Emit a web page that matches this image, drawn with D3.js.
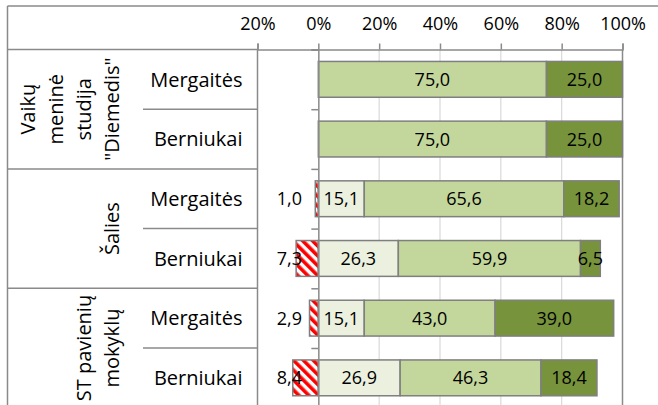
<!DOCTYPE html>
<html>
<head>
<meta charset="utf-8">
<script src="https://cdn.jsdelivr.net/npm/d3@7"></script>
<style>
  body { margin: 0; background: #fff; }
  svg { display: block; font-family: "Open Sans", sans-serif; }
</style>
</head>
<body>
<svg id="chart" width="658" height="405"></svg>
<script>
// data
const groups = [
  { key: "vaiku", lines: ["Vaikų", "meninė", "studija", "\"Diemedis\""] },
  { key: "salies", lines: ["Šalies"] },
  { key: "st", lines: ["ST pavienių", "mokyklų"] },
];
const rowGroups = ["vaiku", "vaiku", "salies", "salies", "st", "st"];
const rowLabels = ["Mergaitės", "Berniukai", "Mergaitės", "Berniukai", "Mergaitės", "Berniukai"];
const negValues = [0, 0, 1.0, 7.3, 2.9, 8.4];
const lowValues = [0, 0, 15.1, 26.3, 15.1, 26.9];
const midValues = [75.0, 75.0, 65.6, 59.9, 43.0, 46.3];
const highValues = [25.0, 25.0, 18.2, 6.5, 39.0, 18.4];
const tickValues = [-20, 0, 20, 40, 60, 80, 100];

const rows = rowLabels.map((label, i) => ({
  id: i,
  group: rowGroups[i],
  label,
  neg: negValues[i],
  low: lowValues[i],
  mid: midValues[i],
  high: highValues[i],
}));

const svg = d3.select("#chart");
const lineColor = "#8a8a8a";
const plotTop = 49.5;
const step = 59.7;
const plotBottom = plotTop + step * rows.length;

const xScale = d3.scaleLinear().domain([-20, 100]).range([257.5, 622.5]);

const yScale = d3
  .scaleBand()
  .domain(rows.map((d) => d.id))
  .range([plotTop, plotBottom])
  .paddingInner(0.4)
  .paddingOuter(0.2);

// row boundaries for ticks and table lines
const yEdge = d3.scaleLinear().domain([0, rows.length]).range([plotTop, plotBottom]);

const fmt = (v) => d3.format(".1f")(v).replace(".", ",");

// hatch for the negative part
const defs = svg.append("defs");
const pattern = defs
  .append("pattern")
  .attr("id", "hatch")
  .attr("patternUnits", "userSpaceOnUse")
  .attr("width", 7)
  .attr("height", 7)
  .attr("patternTransform", "rotate(-45)");
pattern.append("rect").attr("width", 7).attr("height", 7).attr("fill", "#fff");
pattern.append("rect").attr("width", 3.6).attr("height", 7).attr("fill", "#ff0000");

// outer frame
svg.append("line")
  .attr("x1", 7.5).attr("x2", 658).attr("y1", 6).attr("y2", 6)
  .attr("stroke", lineColor).attr("stroke-width", 1.5);
svg.append("line")
  .attr("x1", 7.5).attr("x2", 7.5).attr("y1", 6).attr("y2", 405)
  .attr("stroke", lineColor).attr("stroke-width", 1.5);

// gridlines
svg.append("g")
  .selectAll("line")
  .data([20, 40, 60, 80])
  .join("line")
  .attr("x1", (d) => xScale(d)).attr("x2", (d) => xScale(d))
  .attr("y1", plotTop).attr("y2", 405)
  .attr("stroke", "#d9d9d9").attr("stroke-width", 1.2);

// plot border right side
svg.append("line")
  .attr("x1", xScale(100)).attr("x2", xScale(100))
  .attr("y1", plotTop).attr("y2", 405)
  .attr("stroke", lineColor).attr("stroke-width", 1.5);

// label table lines
const table = svg.append("g").attr("stroke", lineColor).attr("stroke-width", 1.5);
table.append("line")
  .attr("x1", 7.5).attr("x2", xScale(-20)).attr("y1", plotTop).attr("y2", plotTop);
table.append("line")
  .attr("x1", xScale(-20)).attr("x2", xScale(-20)).attr("y1", plotTop).attr("y2", 405);
table.selectAll(".group-line")
  .data([2, 4])
  .join("line")
  .attr("class", "group-line")
  .attr("x1", 7.5).attr("x2", xScale(-20))
  .attr("y1", (d) => yEdge(d)).attr("y2", (d) => yEdge(d));
table.selectAll(".sub-line")
  .data([1, 3, 5])
  .join("line")
  .attr("class", "sub-line")
  .attr("x1", 143).attr("x2", xScale(-20))
  .attr("y1", (d) => yEdge(d)).attr("y2", (d) => yEdge(d));

// top axis
const xAxis = d3
  .axisTop(xScale)
  .tickValues(tickValues)
  .tickSize(6)
  .tickPadding(14)
  .tickFormat((d) => Math.abs(d) + "%");

const xAxisG = svg.append("g")
  .attr("class", "x-axis")
  .attr("transform", `translate(0,${plotTop})`)
  .call(xAxis);
xAxisG.select(".domain").attr("stroke", lineColor).attr("stroke-width", 1.5);
xAxisG.selectAll(".tick line").attr("stroke", lineColor).attr("stroke-width", 1.5);
xAxisG.selectAll(".tick text")
  .attr("fill", "#000")
  .attr("font-size", 18)
  .attr("font-family", "Open Sans, sans-serif");

// bars
const barG = svg.append("g");
const segs = [];
rows.forEach((d) => {
  if (d.neg > 0) segs.push({ row: d, x0: -d.neg, x1: 0, fill: "url(#hatch)", key: "neg" });
  let acc = 0;
  [["low", "#ebf1de"], ["mid", "#c3d69b"], ["high", "#77933c"]].forEach(([k, c]) => {
    if (d[k] > 0) segs.push({ row: d, x0: acc, x1: acc + d[k], fill: c, key: k, value: d[k] });
    acc += d[k];
  });
});

barG.selectAll("rect")
  .data(segs)
  .join("rect")
  .attr("x", (d) => xScale(d.x0))
  .attr("width", (d) => xScale(d.x1) - xScale(d.x0))
  .attr("y", (d) => yScale(d.row.id))
  .attr("height", yScale.bandwidth())
  .attr("fill", (d) => d.fill)
  .attr("stroke", "#7f7f7f")
  .attr("stroke-width", 1.5);

// vertical category axis at 0%
const yAxis = d3.axisLeft(yEdge).tickValues(d3.range(0, rows.length + 1)).tickSize(7).tickFormat("");
const yAxisG = svg.append("g")
  .attr("transform", `translate(${xScale(0)},0)`)
  .call(yAxis);
yAxisG.select(".domain").attr("stroke", lineColor).attr("stroke-width", 1.5);
yAxisG.selectAll(".tick line").attr("stroke", lineColor).attr("stroke-width", 1.5);

// value labels
svg.append("g")
  .selectAll("text")
  .data(segs.filter((d) => d.key !== "neg"))
  .join("text")
  .attr("x", (d) => xScale((d.x0 + d.x1) / 2))
  .attr("y", (d) => yScale(d.row.id) + yScale.bandwidth() / 2)
  .attr("dy", "0.36em")
  .attr("text-anchor", "middle")
  .attr("font-size", 18)
  .attr("fill", "#000")
  .text((d) => fmt(d.value));

svg.append("g")
  .selectAll("text")
  .data(rows.filter((d) => d.neg > 0))
  .join("text")
  .attr("x", 302)
  .attr("y", (d) => yScale(d.id) + yScale.bandwidth() / 2)
  .attr("dy", "0.36em")
  .attr("text-anchor", "end")
  .attr("font-size", 18)
  .attr("fill", "#000")
  .text((d) => fmt(d.neg));

// sub category labels
svg.append("g")
  .selectAll("text")
  .data(rows)
  .join("text")
  .attr("x", 242.5)
  .attr("y", (d) => yScale(d.id) + yScale.bandwidth() / 2)
  .attr("dy", "0.36em")
  .attr("text-anchor", "end")
  .attr("font-size", 20)
  .attr("fill", "#000")
  .text((d) => d.label);

// group labels (rotated)
const lineGap = 28;
const groupG = svg.append("g");
groups.forEach((g, gi) => {
  const cy = (yEdge(gi * 2) + yEdge(gi * 2 + 2)) / 2;
  const n = g.lines.length;
  g.lines.forEach((line, li) => {
    const bx = 119 - (n - 1 - li) * lineGap;
    groupG.append("text")
      .attr("transform", `translate(${bx},${cy}) rotate(-90)`)
      .attr("text-anchor", "middle")
      .attr("font-size", 20)
      .attr("fill", "#000")
      .text(line);
  });
});
</script>
</body>
</html>
